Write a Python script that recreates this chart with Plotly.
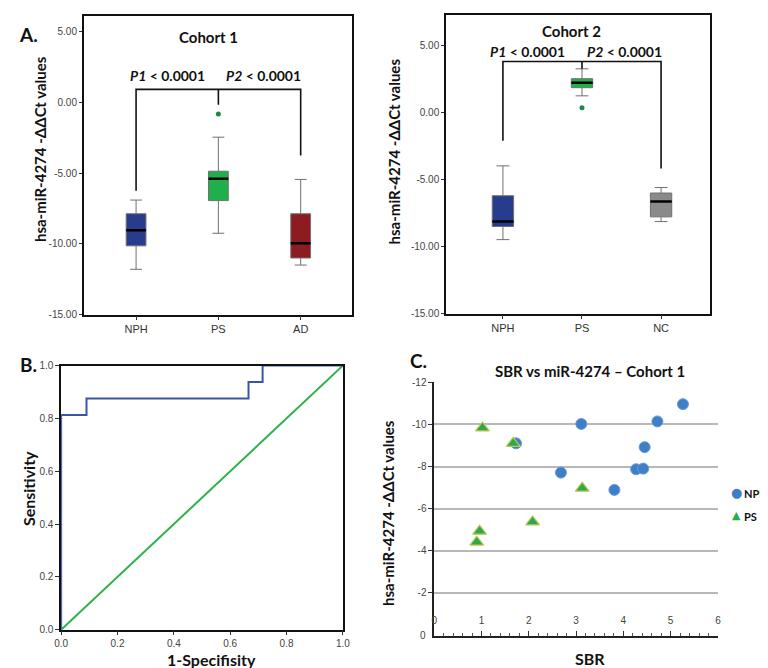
import plotly.graph_objects as go

W, H = 768, 668

# ---------------- Panel A (Cohort 1) ----------------
c1_groups = ["NPH", "PS", "AD"]
c1_lowerfence = [-11.8, -9.25, -11.5]
c1_q1 = [-10.14, -6.94, -11.0]
c1_median = [-9.03, -5.4, -9.95]
c1_q3 = [-7.87, -4.86, -7.87]
c1_upperfence = [-6.9, -2.45, -5.44]
c1_outlier_group = [1]
c1_outlier_value = [-0.81]
c1_bracket_y = 0.93
c1_leg_bottom = [-6.25, -0.16, -3.75]

# ---------------- Panel A (Cohort 2) ----------------
c2_groups = ["NPH", "PS", "NC"]
c2_lowerfence = [-9.48, 1.26, -8.13]
c2_q1 = [-8.5, 1.87, -7.78]
c2_median = [-8.13, 2.24, -6.63]
c2_q3 = [-6.2, 2.54, -6.0]
c2_upperfence = [-3.97, 3.28, -5.59]
c2_outlier_group = [1]
c2_outlier_value = [0.37]
c2_bracket_y = 3.82
c2_leg_bottom = [-2.09, 3.28, -4.16]

box_ticks = [5, 0, -5, -10, -15]
box_ticktext = ["5.00", "0.00", "-5.00", "-10.00", "-15.00"]

# ---------------- Panel B (ROC) ----------------
roc_fpr = [0, 0, 0.09, 0.09, 0.665, 0.665, 0.715, 0.715, 1.0]
roc_tpr = [0, 0.8125, 0.8125, 0.875, 0.875, 0.9375, 0.9375, 1.0, 1.0]
ref_fpr = [0, 1]
ref_tpr = [0, 1]
roc_ticks = [0, 0.2, 0.4, 0.6, 0.8, 1.0]

# ---------------- Panel C (scatter) ----------------
series_names = ["NPH", "PS"]
nph_sbr = [5.26, 4.72, 3.11, 1.73, 4.45, 4.27, 4.42, 2.68, 3.81]
nph_mir = [-10.96, -10.14, -10.02, -9.1, -8.92, -7.87, -7.9, -7.71, -6.89]
ps_sbr = [1.02, 1.67, 3.13, 2.08, 0.96, 0.90]
ps_mir = [-9.83, -9.1, -6.97, -5.37, -4.93, -4.41]
c_yticks = [-12, -10, -8, -6, -4, -2, 0]
c_xticks = [0, 1, 2, 3, 4, 5, 6]

# ---------------- styles ----------------
BOX_COLORS_1 = ["#283c8e", "#1fb04b", "#8c1c1f"]
BOX_COLORS_2 = ["#283c8e", "#1fb04b", "#8a8a8a"]
NPH_BLUE = "#3f7fc8"
PS_GREEN = "#2ea84a"
TICKFONT = dict(family="Liberation Sans, Arial", size=10, color="#444")
CATFONT = dict(family="Liberation Sans, Arial", size=11, color="#333")
BOLD = "Lato, Open Sans, sans-serif"


def px_x(p):
    return p / W


def px_y(p):
    return 1 - p / H


fig = go.Figure()


def add_boxes(xa, ya, q1s, meds, q3s, lfs, ufs, colors, width, outg, outv, by, legs):
    for i in range(len(q1s)):
        fig.add_trace(go.Box(
            x=[i], q1=[q1s[i]], median=[meds[i]], q3=[q3s[i]],
            lowerfence=[lfs[i]], upperfence=[ufs[i]],
            fillcolor=colors[i], line=dict(color="#707070", width=1),
            whiskerwidth=0.6, width=width, boxpoints=False,
            showlegend=False, hoverinfo="skip", xaxis=xa, yaxis=ya))
        fig.add_trace(go.Scatter(
            x=[i - width / 2, i + width / 2], y=[meds[i], meds[i]],
            mode="lines", line=dict(color="black", width=2.5),
            showlegend=False, hoverinfo="skip", xaxis=xa, yaxis=ya))
    fig.add_trace(go.Scatter(
        x=outg, y=outv, mode="markers",
        marker=dict(color="#1a8a4a", size=5),
        showlegend=False, hoverinfo="skip", xaxis=xa, yaxis=ya))
    fig.add_trace(go.Scatter(
        x=[0, 0, 2, 2], y=[legs[0], by, by, legs[2]], mode="lines",
        line=dict(color="#111", width=1.6), showlegend=False,
        hoverinfo="skip", xaxis=xa, yaxis=ya))
    fig.add_trace(go.Scatter(
        x=[1, 1], y=[by, legs[1]], mode="lines",
        line=dict(color="#111", width=1.6), showlegend=False,
        hoverinfo="skip", xaxis=xa, yaxis=ya))


add_boxes("x", "y", c1_q1, c1_median, c1_q3, c1_lowerfence, c1_upperfence,
          BOX_COLORS_1, 0.24, c1_outlier_group, c1_outlier_value, c1_bracket_y, c1_leg_bottom)
add_boxes("x2", "y2", c2_q1, c2_median, c2_q3, c2_lowerfence, c2_upperfence,
          BOX_COLORS_2, 0.27, c2_outlier_group, c2_outlier_value, c2_bracket_y, c2_leg_bottom)

# ROC
fig.add_trace(go.Scatter(x=ref_fpr, y=ref_tpr, mode="lines",
                         line=dict(color="#2db34a", width=2), showlegend=False,
                         hoverinfo="skip", xaxis="x3", yaxis="y3", cliponaxis=False))
fig.add_trace(go.Scatter(x=roc_fpr, y=roc_tpr, mode="lines",
                         line=dict(color="#3a54a8", width=2), showlegend=False,
                         hoverinfo="skip", xaxis="x3", yaxis="y3", cliponaxis=False))

# Scatter C
fig.add_trace(go.Scatter(x=nph_sbr, y=nph_mir, mode="markers", name=series_names[0],
                         marker=dict(symbol="circle", size=11, color=NPH_BLUE,
                                     line=dict(color="#6a9bd6", width=1)),
                         showlegend=False, xaxis="x4", yaxis="y4", cliponaxis=False))
fig.add_trace(go.Scatter(x=ps_sbr, y=ps_mir, mode="markers", name=series_names[1],
                         marker=dict(symbol="triangle-up", size=12, color=PS_GREEN,
                                     line=dict(color="#c2c65a", width=1.2)),
                         showlegend=False, xaxis="x4", yaxis="y4", cliponaxis=False))
# carrier trace for the raised SBR tick-label axis
fig.add_trace(go.Scatter(x=[c_xticks[0]], y=[c_yticks[-1]], mode="markers",
                         marker=dict(opacity=0, size=1), showlegend=False,
                         hoverinfo="skip", xaxis="x5", yaxis="y4"))

frame = dict(showline=True, linecolor="#111", linewidth=1.5, mirror=True,
             showgrid=False, zeroline=False)

layout = dict(
    width=W, height=H, margin=dict(l=0, r=0, t=0, b=0),
    paper_bgcolor="white", plot_bgcolor="white",
    showlegend=False,
    # A1
    xaxis=dict(domain=[px_x(70), px_x(343.3)], range=[-0.636, 2.624],
               tickvals=[0, 1, 2], ticktext=c1_groups, ticks="outside",
               ticklen=4, tickcolor="#333", tickfont=CATFONT, anchor="y", **frame),
    yaxis=dict(domain=[px_y(306), px_y(1.7)], range=[-15, 6.15],
               tickvals=box_ticks, ticktext=box_ticktext, ticks="outside",
               ticklen=3, tickcolor="#333", tickfont=TICKFONT, anchor="x", **frame),
    # A2
    xaxis2=dict(domain=[px_x(439), px_x(708)], range=[-0.72, 2.62],
                tickvals=[0, 1, 2], ticktext=c2_groups, ticks="outside",
                ticklen=4, tickcolor="#333", tickfont=CATFONT, anchor="y2", **frame),
    yaxis2=dict(domain=[px_y(305), px_y(1)], range=[-15, 7.3],
                tickvals=box_ticks, ticktext=box_ticktext, ticks="outside",
                ticklen=3, tickcolor="#333", tickfont=TICKFONT, anchor="x2", **frame),
    # B
    xaxis3=dict(domain=[px_x(47), px_x(334)], range=[0, 1],
                tickvals=roc_ticks, ticktext=[f"{v:.1f}" for v in roc_ticks],
                ticks="outside", ticklen=4, tickcolor="#333", tickfont=TICKFONT,
                anchor="y3", **frame),
    yaxis3=dict(domain=[px_y(627), px_y(358)], range=[0, 1],
                tickvals=roc_ticks, ticktext=[f"{v:.1f}" for v in roc_ticks],
                ticks="outside", ticklen=4, tickcolor="#333", tickfont=TICKFONT,
                anchor="x3", **frame),
    # C
    xaxis4=dict(domain=[px_x(427), px_x(716)], range=[0, 6],
                tickvals=c_xticks, showticklabels=False,
                ticks="inside", ticklen=5, tickcolor="#333",
                minor=dict(ticks="inside", ticklen=3, dtick=0.2, tickcolor="#555"),
                showline=True, linecolor="#222", linewidth=1.5, showgrid=False,
                zeroline=False, anchor="y4"),
    xaxis5=dict(overlaying="x4", anchor="free", position=px_y(610), side="bottom",
                range=[0, 6], tickvals=c_xticks, ticktext=[str(v) for v in c_xticks],
                ticks="", showline=False, showgrid=False, zeroline=False,
                tickfont=TICKFONT),
    yaxis4=dict(domain=[px_y(633), px_y(375)], range=[0.03, -12],
                tickvals=c_yticks[:-1], ticktext=[str(v) for v in c_yticks[:-1]],
                ticks="outside", ticklen=4, tickcolor="#333", tickfont=TICKFONT,
                showline=True, linecolor="#222", linewidth=1.5,
                showgrid=True, gridcolor="#b8b8b8", gridwidth=1.5,
                zeroline=False, anchor="x4"),
)
fig.update_layout(**layout)


def ann(text, x, y, size, angle=0, color="#111", family=BOLD, xanchor="center"):
    fig.add_annotation(text=text, x=px_x(x), y=px_y(y), xref="paper", yref="paper",
                       showarrow=False, textangle=angle, xanchor=xanchor, yanchor="middle",
                       font=dict(family=family, size=size, color=color))


ytitle = "<b>hsa-miR-4274 -ΔΔCt values</b>"
# Panel labels
ann("<b>A.</b>", 14, 21, 19)
ann("<b>B.</b>", 14, 357, 19)
ann("<b>C.</b>", 411, 353, 19)
# A1
ann("<b>Cohort 1</b>", 197, 23, 15)
ann("<b><i>P1</i> &lt; 0.0001</b>", 155, 63, 14)
ann("<b><i>P2</i> &lt; 0.0001</b>", 253, 63, 14)
ann(ytitle, 25, 138, 15, angle=-90)
# A2
ann("<b>Cohort 2</b>", 567, 17, 15)
ann("<b><i>P1</i> &lt; 0.0001</b>", 522, 38, 14)
ann("<b><i>P2</i> &lt; 0.0001</b>", 621, 38, 14)
ann(ytitle, 387, 140, 15, angle=-90)
# B
ann("<b>Sensitivity</b>", 14, 483, 16, angle=-90)
ann("<b>1-Specifisity</b>", 200, 657, 16)
# C
ann("<b>SBR vs miR-4274 – Cohort 1</b>", 586, 364, 15)
ann(ytitle, 380, 508, 15, angle=-90)
ann("<b>SBR</b>", 586, 656, 16)
# bottom "0" label of the C value axis
ann(str(c_yticks[-1]), 421, 633, 10, color="#444",
    family="Liberation Sans, Arial", xanchor="right")
# C legend (symbol glyphs + names)
ann("●", 735, 487, 13, color=NPH_BLUE, family="DejaVu Sans")
ann("<b>" + series_names[0] + "</b>", 740, 488, 11, xanchor="left")
ann("▲", 735, 511, 11, color=PS_GREEN, family="DejaVu Sans")
ann("<b>" + series_names[1] + "</b>", 740, 512, 11, xanchor="left")

fig.write_html("out.html")
